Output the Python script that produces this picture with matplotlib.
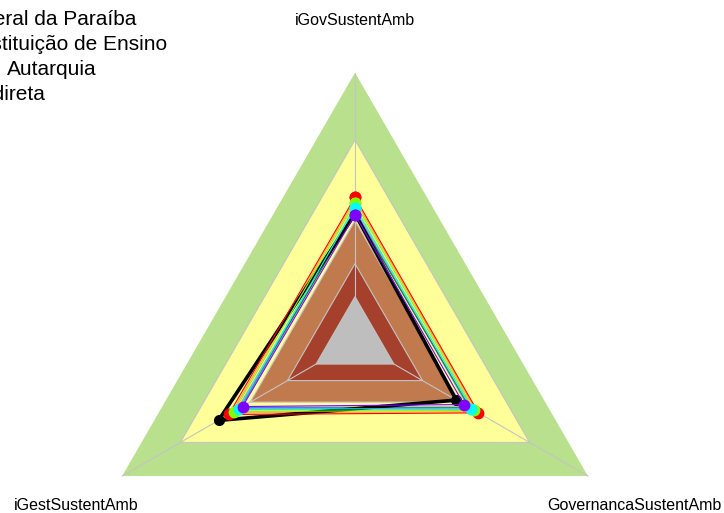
# Radar de sustentabilidade ambiental: faixas de maturidade e índices por grupo
import matplotlib.pyplot as plt
import numpy as np

plt.rcParams['font.family'] = ['Liberation Sans', 'DejaVu Sans']

eixos = ['iGovSustentAmb', 'iGestSustentAmb', 'GovernancaSustentAmb']
angulos = np.deg2rad([90, 210, 330])

# limites das faixas (raio) e cores, de fora para dentro
faixas = [1.0, 0.75, 0.45, 0.29, 0.167]
cores_faixas = ['#B9E08C', '#FFFF99', '#C07A4E', '#A5402C', '#BEBEBE']
centro = 0.167

# séries com marcadores
ufpb = [0.475, 0.586, 0.435]
serie_vermelha = [0.537, 0.542, 0.530]
serie_verde = [0.517, 0.520, 0.512]
serie_ciano = [0.498, 0.500, 0.500]
serie_roxa = [0.472, 0.483, 0.468]

# demais linhas finas
linhas_finas = {
    '#FFA040': [0.528, 0.530, 0.522],
    '#FF80C0': [0.490, 0.508, 0.505],
    '#A8E060': [0.505, 0.492, 0.482],
    '#4080FF': [0.485, 0.490, 0.490],
    '#208020': [0.480, 0.500, 0.495],
}

legenda = ['Universidade Federal da Paraíba', 'Instituição de Ensino',
           'Autarquia', 'Administração Indireta']


def xy(valores):
    v = np.append(valores, valores[0])
    a = np.append(angulos, angulos[0])
    return v * np.cos(a), v * np.sin(a)


fig = plt.figure(figsize=(7.24, 5.13), dpi=100)
ax = fig.add_axes([0, 0, 1, 1])
ax.set_xlim(-1.3202, 1.3722)
ax.set_ylim(-0.6374, 1.2704)
ax.axis('off')

for i, (r, cor) in enumerate(zip(faixas, cores_faixas)):
    x, y = xy([r, r, r])
    ax.fill(x, y, color=cor, ec='none' if i == 0 else '#C4C4C4', lw=0.8,
            zorder=1)

# eixos radiais a partir do triângulo central
for a in angulos:
    ax.plot([centro * np.cos(a), np.cos(a)], [centro * np.sin(a), np.sin(a)],
            color='#C4C4C4', lw=0.8, zorder=2)

for cor, vals in linhas_finas.items():
    x, y = xy(vals)
    ax.plot(x, y, color=cor, lw=0.8, zorder=3)

x, y = xy(ufpb)
ax.plot(x, y, color='black', lw=2.6, marker='o', ms=7, zorder=4)

for cor, vals in [('#FF0000', serie_vermelha), ('#80FF00', serie_verde),
                  ('#00FFFF', serie_ciano), ('#8000FF', serie_roxa)]:
    x, y = xy(vals)
    ax.plot(x, y, color=cor, lw=0.8, marker='o', ms=7.5, zorder=5)

# rótulos dos eixos
ax.text(0, 1.196, eixos[0], ha='center', va='center', fontsize=11.5)
ax.text(-1.0376, -0.6077, eixos[1], ha='center', va='center', fontsize=11.5)
ax.text(1.0376, -0.6077, eixos[2], ha='center', va='center', fontsize=11.5)

# legenda
fig.text(136 / 724, 1 - 25 / 513, legenda[0], ha='right', va='baseline',
         fontsize=15)
fig.text(167 / 724, 1 - 50 / 513, legenda[1], ha='right', va='baseline',
         fontsize=15)
fig.text(7 / 724, 1 - 75 / 513, legenda[2], ha='left', va='baseline',
         fontsize=15)
fig.text(45 / 724, 1 - 100 / 513, legenda[3], ha='right', va='baseline',
         fontsize=15)

fig.savefig('out.png', dpi=100)
